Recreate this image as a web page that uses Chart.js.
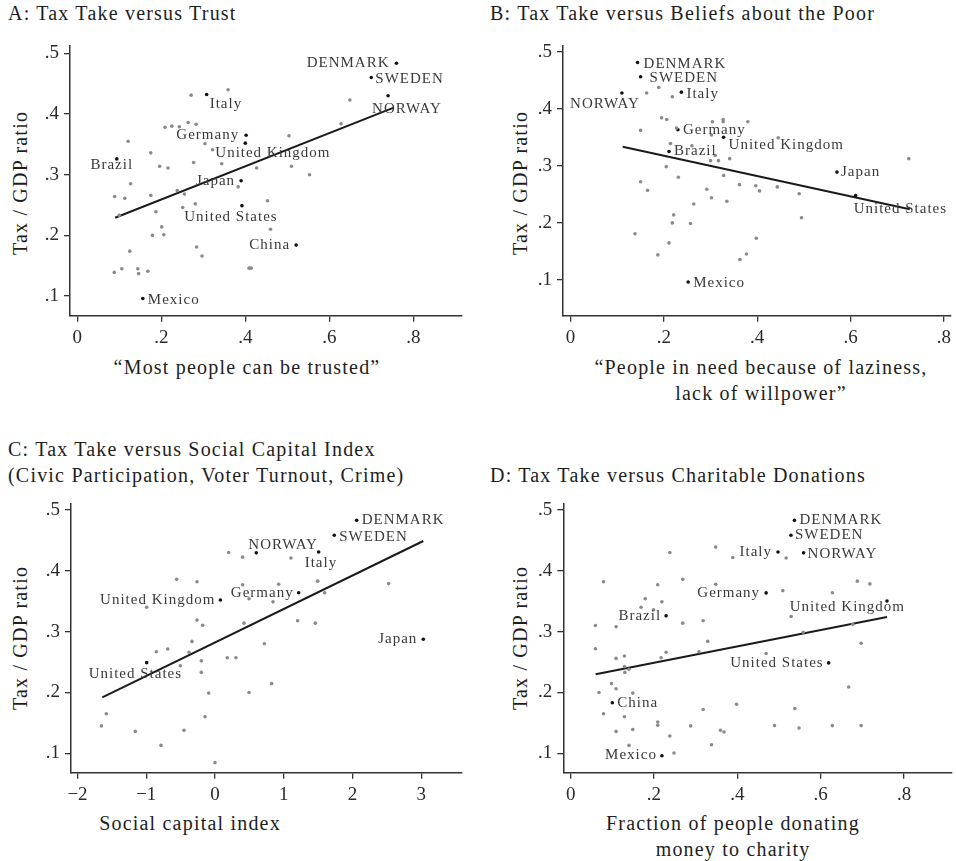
<!DOCTYPE html>
<html>
<head>
<meta charset="utf-8">
<script src="https://cdn.jsdelivr.net/npm/chart.js@4.4.1/dist/chart.umd.min.js"></script>
<style>
	body {
		margin: 0;
		width: 956px;
		height: 861px;
		position: relative;
		overflow: hidden;
		background: #fff;
		font-family: "Liberation Serif", serif;
		color: #1e1e1e;
	}
	canvas { position: absolute; }
	.t {
		position: absolute;
		font-size: 20px;
		line-height: 22px;
		letter-spacing: 1.2px;
		white-space: nowrap;
	}
	.c { transform: translateX(-50%); text-align: center; line-height: 26px; }
	.v { transform: translate(-50%, -50%) rotate(-90deg); }
</style>
</head>
<body>
<div class="t" style="left:8px;top:2px">A: Tax Take versus Trust</div>
<div class="t" style="left:490px;top:2px">B: Tax Take versus Beliefs about the Poor</div>
<div class="t" style="left:8px;top:436px;line-height:26px">C: Tax Take versus Social Capital Index<br>(Civic Participation, Voter Turnout, Crime)</div>
<div class="t" style="left:490px;top:464px">D: Tax Take versus Charitable Donations</div>

<div class="t c" style="left:247px;top:354px">“Most people can be trusted”</div>
<div class="t c" style="left:761px;top:354px">“People in need because of laziness,<br>lack of willpower”</div>
<div class="t c" style="left:190px;top:810px">Social capital index</div>
<div class="t c" style="left:733px;top:810px">Fraction of people donating<br>money to charity</div>

<div class="t v" style="left:20px;top:183px">Tax / GDP ratio</div>
<div class="t v" style="left:520px;top:183px">Tax / GDP ratio</div>
<div class="t v" style="left:20px;top:638px">Tax / GDP ratio</div>
<div class="t v" style="left:520px;top:638px">Tax / GDP ratio</div>

<canvas id="chartA" width="480" height="420" style="left:0;top:0"></canvas>
<canvas id="chartB" width="476" height="420" style="left:480px;top:0"></canvas>
<canvas id="chartC" width="480" height="441" style="left:0;top:420px"></canvas>
<canvas id="chartD" width="476" height="441" style="left:480px;top:420px"></canvas>

<script>
// shared ticks
const taxTicks = [0.1, 0.2, 0.3, 0.4, 0.5];
const shareTicks = [0, 0.2, 0.4, 0.6, 0.8];
const socialTicks = [-2, -1, 0, 1, 2, 3];

// A: trust
const trustX = [0.271, 0.359, 0.649, 0.628, 0.209, 0.225, 0.243, 0.264, 0.283, 0.504, 0.121, 0.304, 0.175, 0.322, 0.277, 0.344, 0.196, 0.216, 0.427, 0.51, 0.553, 0.127, 0.383, 0.089, 0.113, 0.175, 0.238, 0.255, 0.1, 0.187, 0.251, 0.281, 0.453, 0.201, 0.179, 0.206, 0.46, 0.125, 0.284, 0.297, 0.088, 0.106, 0.144, 0.146, 0.168, 0.409, 0.414];
const trustY = [0.431, 0.44, 0.423, 0.384, 0.378, 0.38, 0.379, 0.386, 0.383, 0.364, 0.355, 0.351, 0.336, 0.341, 0.32, 0.318, 0.314, 0.311, 0.311, 0.314, 0.3, 0.285, 0.28, 0.264, 0.261, 0.266, 0.274, 0.268, 0.233, 0.239, 0.246, 0.252, 0.257, 0.214, 0.2, 0.201, 0.21, 0.174, 0.181, 0.166, 0.139, 0.145, 0.145, 0.137, 0.141, 0.146, 0.146];
const trustNames = ["DENMARK", "SWEDEN", "NORWAY", "Italy", "Germany", "United Kingdom", "Brazil", "Japan", "United States", "China", "Mexico"];
const trustNamedX = [0.76, 0.7, 0.74, 0.308, 0.402, 0.4, 0.094, 0.39, 0.392, 0.521, 0.156];
const trustNamedY = [0.4835, 0.46, 0.43, 0.432, 0.365, 0.352, 0.326, 0.29, 0.249, 0.184, 0.096];
const trustFitX = [0.09, 0.752];
const trustFitY = [0.229, 0.41];

// B: beliefs about the poor
const lazyX = [0.163, 0.189, 0.218, 0.195, 0.206, 0.15, 0.227, 0.304, 0.327, 0.327, 0.38, 0.302, 0.445, 0.214, 0.26, 0.31, 0.3, 0.317, 0.341, 0.205, 0.231, 0.328, 0.15, 0.165, 0.292, 0.362, 0.397, 0.405, 0.443, 0.49, 0.302, 0.335, 0.264, 0.221, 0.218, 0.257, 0.495, 0.138, 0.211, 0.187, 0.377, 0.363, 0.398, 0.725];
const lazyY = [0.4275, 0.437, 0.421, 0.384, 0.381, 0.362, 0.366, 0.377, 0.381, 0.377, 0.377, 0.354, 0.349, 0.339, 0.335, 0.318, 0.309, 0.309, 0.3125, 0.2985, 0.28, 0.283, 0.272, 0.257, 0.259, 0.267, 0.265, 0.256, 0.263, 0.251, 0.244, 0.238, 0.233, 0.214, 0.2, 0.199, 0.209, 0.181, 0.165, 0.144, 0.1455, 0.136, 0.173, 0.3125];
const lazyNames = ["DENMARK", "SWEDEN", "NORWAY", "Italy", "Germany", "United Kingdom", "Brazil", "Japan", "United States", "Mexico"];
const lazyNamedX = [0.1435, 0.15, 0.11, 0.2375, 0.23, 0.328, 0.211, 0.571, 0.611, 0.252];
const lazyNamedY = [0.481, 0.456, 0.4275, 0.429, 0.363, 0.35, 0.325, 0.289, 0.248, 0.0965];
const lazyFitX = [0.1116, 0.727];
const lazyFitY = [0.3335, 0.224];

// C: social capital index
const socialX = [0.199, 0.402, 1.105, -0.558, -0.262, 0.402, 0.926, 1.493, 1.595, 0.495, 0.844, -0.994, -0.262, -0.179, 0.422, 1.202, 1.459, -0.335, 0.718, -0.853, -0.688, -0.378, -0.504, -0.199, -0.199, 0.179, 0.305, -0.092, 0.495, 0.824, -1.581, -1.653, -1.159, -0.451, -0.145, -0.785, 0, 2.526];
const socialY = [0.43, 0.4225, 0.421, 0.386, 0.382, 0.377, 0.378, 0.383, 0.364, 0.354, 0.349, 0.34, 0.319, 0.3105, 0.314, 0.318, 0.314, 0.284, 0.28, 0.267, 0.2715, 0.266, 0.244, 0.252, 0.233, 0.257, 0.257, 0.199, 0.2, 0.2145, 0.165, 0.145, 0.136, 0.138, 0.16, 0.113, 0.0846, 0.379];
const socialNames = ["DENMARK", "SWEDEN", "NORWAY", "Italy", "Germany", "United Kingdom", "Japan", "United States"];
const socialNamedX = [2.061, 1.735, 0.601, 1.508, 1.217, 0.078, 3.03, -0.994];
const socialNamedY = [0.483, 0.4585, 0.4295, 0.431, 0.364, 0.352, 0.2875, 0.249];
const socialFitX = [-1.639, 3.03];
const socialFitY = [0.192, 0.449];

// D: charitable donations
const donateX = [0.238, 0.348, 0.389, 0.517, 0.079, 0.209, 0.269, 0.348, 0.509, 0.628, 0.179, 0.219, 0.169, 0.199, 0.529, 0.0595, 0.109, 0.269, 0.318, 0.677, 0.329, 0.697, 0.558, 0.0595, 0.109, 0.129, 0.129, 0.13, 0.14, 0.229, 0.217, 0.308, 0.469, 0.068, 0.098, 0.109, 0.149, 0.667, 0.079, 0.129, 0.318, 0.398, 0.538, 0.109, 0.149, 0.209, 0.209, 0.238, 0.288, 0.3595, 0.368, 0.489, 0.548, 0.628, 0.697, 0.14, 0.338, 0.248, 0.688, 0.718];
const donateY = [0.43, 0.439, 0.422, 0.421, 0.382, 0.377, 0.386, 0.378, 0.3675, 0.364, 0.354, 0.349, 0.34, 0.336, 0.325, 0.31, 0.308, 0.314, 0.318, 0.312, 0.284, 0.281, 0.299, 0.272, 0.256, 0.26, 0.2425, 0.233, 0.238, 0.266, 0.257, 0.267, 0.264, 0.2, 0.2146, 0.206, 0.199, 0.209, 0.165, 0.16, 0.172, 0.1806, 0.1735, 0.136, 0.139, 0.1515, 0.146, 0.1285, 0.145, 0.138, 0.135, 0.1455, 0.1417, 0.1455, 0.1455, 0.113, 0.114, 0.1005, 0.383, 0.3785];
const donateNames = ["DENMARK", "SWEDEN", "NORWAY", "Italy", "Germany", "United Kingdom", "Brazil", "United States", "China", "Mexico"];
const donateNamedX = [0.537, 0.5286, 0.559, 0.4976, 0.469, 0.759, 0.229, 0.619, 0.1, 0.219];
const donateNamedY = [0.483, 0.4585, 0.4295, 0.431, 0.3637, 0.3505, 0.326, 0.2486, 0.183, 0.096];
const donateFitX = [0.06, 0.759];
const donateFitY = [0.23, 0.324];

// label placement (pixel offset from the marker, text alignment)
const trustPlace = [[-7, 0, "right"], [4, 1, "left"], [-16, 13, "left"], [3, 9, "left"], [-7, 0, "right"], [-30, 10, "left"], [-5, 6, "center"], [-6, 0, "right"], [-11, 11, "center"], [-6, 0, "right"], [5, 2, "left"]];
const lazyPlace = [[6, 2, "left"], [9, 1, "left"], [-17, 11, "center"], [5, 2, "left"], [5, 0, "left"], [5, 8, "left"], [5, 0, "left"], [4, 0, "left"], [-2, 14, "left"], [5, 1, "left"]];
const socialPlace = [[5, 0, "left"], [5, 2, "left"], [-8, -8, "left"], [-14, 11, "left"], [-5, 0, "right"], [-5, 0, "right"], [-6, 0, "right"], [-58, 11, "left"]];
const donatePlace = [[5, 0, "left"], [4, 0, "left"], [4, 1, "left"], [-6, 0, "right"], [-6, 0, "right"], [18, 6, "right"], [-5, 0, "right"], [-5, 0, "right"], [5, 0, "left"], [-5, -1, "right"]];

Chart.defaults.font.family = "'Liberation Serif', serif";
Chart.defaults.animation = false;

const pointLabels = {
	id: "pointLabels",
	afterDatasetsDraw(chart, args, opts) {
		const { ctx } = chart;
		const x = chart.scales.x;
		const y = chart.scales.y;
		ctx.save();
		ctx.font = "15px 'Liberation Serif'";
		ctx.letterSpacing = "1px";
		ctx.fillStyle = "#3a3a3a";
		ctx.textBaseline = "middle";
		opts.names.forEach((name, i) => {
			const [dx, dy, align] = opts.place[i];
			ctx.textAlign = align;
			ctx.fillText(
				name,
				x.getPixelForValue(opts.xs[i]) + dx,
				y.getPixelForValue(opts.ys[i]) + dy
			);
		});
		ctx.restore();
	},
};

function tickText(v) {
	if (v === 0) return "0";
	const s = String(Math.abs(v)).replace(/^0/, "");
	return (v < 0 ? "\u2212" : "") + s;
}

function axis(min, max, ticks, fit) {
	return {
		type: "linear",
		min: min,
		max: max,
		afterBuildTicks: (s) => {
			s.ticks = ticks.map((v) => ({ value: v }));
		},
		afterFit: fit,
		grid: { drawOnChartArea: false, tickLength: 6, color: "#333", lineWidth: 1.3 },
		border: { color: "#333", width: 1.5 },
		ticks: {
			padding: 5,
			font: { size: 19 },
			color: "#2a2a2a",
			autoSkip: false,
			maxRotation: 0,
			callback: tickText,
		},
	};
}

function panel(id, p) {
	const pts = (xs, ys) => xs.map((x, i) => ({ x: x, y: ys[i] }));
	return new Chart(document.getElementById(id), {
		type: "scatter",
		data: {
			datasets: [
				{
					data: pts(p.grayX, p.grayY),
					pointRadius: 1.8,
					backgroundColor: "#8a8a8a",
					borderWidth: 0,
				},
				{
					data: pts(p.namedX, p.namedY),
					pointRadius: 1.8,
					backgroundColor: "#111",
					borderWidth: 0,
				},
				{
					type: "line",
					data: pts(p.fitX, p.fitY),
					borderColor: "#1a1a1a",
					borderWidth: 2,
					pointRadius: 0,
					fill: false,
				},
			],
		},
		options: {
			responsive: false,
			animation: false,
			layout: { padding: { left: 0, top: p.padTop, right: p.padRight, bottom: 0 } },
			plugins: {
				legend: { display: false },
				tooltip: { enabled: false },
				pointLabels: { names: p.names, xs: p.namedX, ys: p.namedY, place: p.place },
			},
			scales: {
				x: axis(p.xMin, p.xMax, p.xTicks, (s) => { s.height = p.xHeight; }),
				y: axis(p.yMin, p.yMax, taxTicks, (s) => { s.width = p.yWidth; }),
			},
		},
		plugins: [pointLabels],
	});
}

panel("chartA", {
	grayX: trustX, grayY: trustY, namedX: trustNamedX, namedY: trustNamedY,
	names: trustNames, place: trustPlace, fitX: trustFitX, fitY: trustFitY,
	xTicks: shareTicks, xMin: -0.0174, xMax: 0.916, yMin: 0.0677, yMax: 0.5125,
	padTop: 45.7, padRight: 18, xHeight: 104.3, yWidth: 70,
});

panel("chartB", {
	grayX: lazyX, grayY: lazyY, namedX: lazyNamedX, namedY: lazyNamedY,
	names: lazyNames, place: lazyPlace, fitX: lazyFitX, fitY: lazyFitY,
	xTicks: shareTicks, xMin: -0.0163, xMax: 0.815, yMin: 0.0375, yMax: 0.5103,
	padTop: 45.7, padRight: 1, xHeight: 104.3, yWidth: 83,
});

panel("chartC", {
	grayX: socialX, grayY: socialY, namedX: socialNamedX, namedY: socialNamedY,
	names: socialNames, place: socialPlace, fitX: socialFitX, fitY: socialFitY,
	xTicks: socialTicks, xMin: -2.0945, xMax: 3.593, yMin: 0.0681, yMax: 0.511,
	padTop: 83.3, padRight: 18, xHeight: 88.3, yWidth: 71,
});

panel("chartD", {
	grayX: donateX, grayY: donateY, namedX: donateNamedX, namedY: donateNamedY,
	names: donateNames, place: donatePlace, fitX: donateFitX, fitY: donateFitY,
	xTicks: shareTicks, xMin: -0.0176, xMax: 0.915, yMin: 0.0681, yMax: 0.511,
	padTop: 83.3, padRight: 1, xHeight: 88.3, yWidth: 83.3,
});
</script>
</body>
</html>
